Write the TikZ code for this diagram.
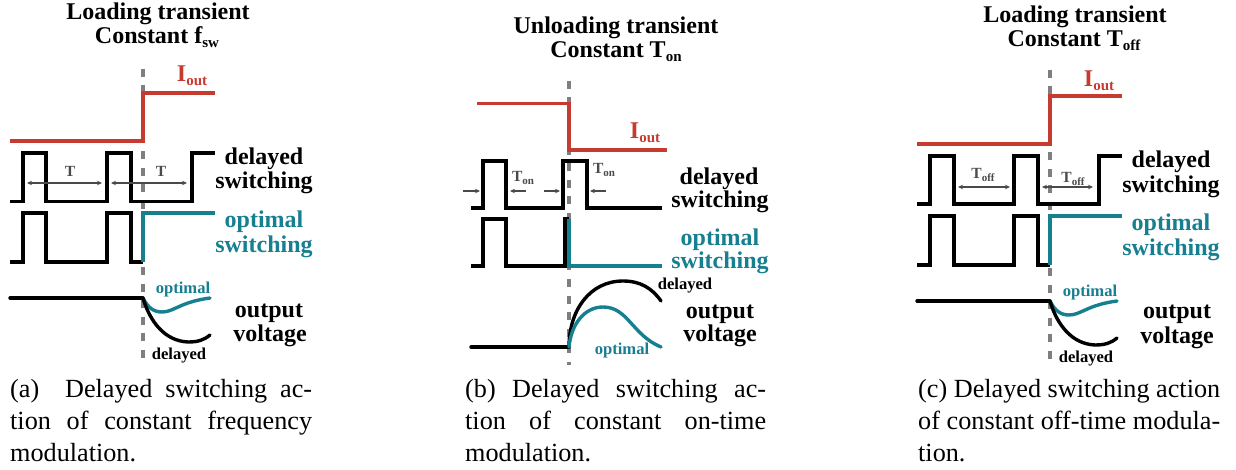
\documentclass[tikz,border=0pt]{standalone}
\usepackage{fontspec}
\setmainfont{Liberation Serif}
\usetikzlibrary{arrows.meta}
\definecolor{wred}{HTML}{C63A30}
\definecolor{wteal}{HTML}{167F90}
\definecolor{wgray}{HTML}{7F7F7F}
\definecolor{wdim}{HTML}{4A4A4A}
\newcommand{\subtxt}[2]{#1\raisebox{-4pt}{\fontsize{15}{15}\selectfont #2}}
\newcommand{\dimsub}[2]{#1\raisebox{-2.5pt}{\fontsize{11}{11}\selectfont #2}}
\tikzset{
  x=1pt,y=-1pt,
  wave/.style={line width=3.6pt,black,line join=miter},
  iwave/.style={line width=3.4pt,wred},
  owave/.style={line width=3.4pt,wteal},
  curve/.style={line width=3.4pt,line cap=round},
  mark line/.style={line width=3.8pt,wgray,dash pattern=on 8pt off 8.5pt},
  dimline/.style={line width=1.1pt,wdim,{Stealth[length=5pt,width=4.5pt]}-{Stealth[length=5pt,width=4.5pt]}},
  dimone/.style={line width=1.1pt,wdim,-{Stealth[length=5pt,width=4.5pt]}},
  txt/.style={inner sep=0pt,anchor=base},
  heading/.style={txt,font=\bfseries\fontsize{24}{24}\selectfont},
  small/.style={txt,font=\bfseries\fontsize{16.6}{17}\selectfont},
  dimlabel/.style={txt,wdim,font=\bfseries\fontsize{15.5}{16}\selectfont},
  capline/.style={inner sep=0pt,anchor=base west,font=\fontsize{26.2}{27}\selectfont},
}
\begin{document}
\begin{tikzpicture}
\useasboundingbox (0,0) rectangle (1236,470);
% ---------- panel a ----------
\node[heading] (ta1) at (158,20) {Loading transient};
\node[heading] (ta2) at (157,44) {Constant \subtxt{f}{sw}};
\draw[mark line] (143,69) -- (143,362);
\draw[iwave] (10,141) -- (143,141) -- (143,93) -- (215,93);
\node[heading,wred] (ia) at (192,82) {\subtxt{I}{out}};
\draw[wave] (10,201.5) -| (23,153) -| (46,201.5) -| (107,153) -| (131,201.5) -| (192,153) -- (215,153);
\draw[dimline] (27,183) -- (102,183);
\draw[dimline] (111,183) -- (187,183);
\node[dimlabel] (Ta) at (70,177) {T};
\node[dimlabel] (Tb) at (161,177) {T};
\draw[wave] (10,262) -| (23,213) -| (46,262) -| (107,213) -| (131,262) -- (143,262);
\draw[owave] (143,262) -- (143,213) -- (215,213);
\draw[curve,black] (10,298) -- (143,298);
\draw[curve,wteal] (143,298) .. controls (148,308) and (154,312) .. (162,312) .. controls (174,312) and (180,302) .. (210,298);
\draw[curve,black] (143,298) .. controls (150,322) and (165,341) .. (188,342) .. controls (198,342) and (204,340) .. (210,335);
\node[small,wteal] (oa) at (183,293) {optimal};
\node[small] (da) at (179,359) {delayed};
\node[heading] (a1) at (264,165) {delayed};
\node[heading] (a2) at (264,189) {switching};
\node[heading,wteal] (a3) at (264,228) {optimal};
\node[heading,wteal] (a4) at (264,252.5) {switching};
\node[heading] (a5) at (269,317) {output};
\node[heading] (a6) at (270,341) {voltage};
\node[capline] (ca1) at (10,397) {\hbox to 302pt{(a)\hfil\hfil Delayed\hfil switching\hfil ac-}};
\node[capline] (ca2) at (10,429) {\hbox to 302pt{tion\hfil of\hfil constant\hfil frequency}};
\node[capline] (ca3) at (10,461) {modulation.};
% ---------- panel b ----------
\node[heading] (tb1) at (616,34) {Unloading transient};
\node[heading] (tb2) at (616,58) {Constant \subtxt{T}{on}};
\draw[mark line] (569,81) -- (569,365);
\draw[iwave] (477,103.5) -- (569,103.5) -- (569,150) -- (667,150);
\node[heading,wred] (ib) at (645,139) {\subtxt{I}{out}};
\draw[wave] (471,208) -| (483,161) -| (506,208) -| (563,161) -| (587,208) -- (662,208);
\draw[dimone] (463,191) -- (480,191);
\draw[dimone] (526,191) -- (510,191);
\draw[dimone] (544,191) -- (560,191);
\draw[dimone] (606,191) -- (590,191);
\node[dimlabel] (Tc) at (523,182) {\dimsub{T}{on}};
\node[dimlabel] (Td) at (604,174) {\dimsub{T}{on}};
\draw[wave] (471,266) -| (483,219) -| (506,266) -| (565,219) -- (569,219);
\draw[owave] (569,219) -- (569,266) -- (662,266);
\draw[curve,black] (471,347) -- (569,347);
\draw[curve,black] (569,347) .. controls (569,310) and (590,281) .. (623,281) .. controls (640,281) and (652,288) .. (661,301);
\draw[curve,wteal] (569,347) .. controls (571,325) and (584,307) .. (603,307) .. controls (628,307) and (632,335) .. (661,347);
\node[small] (db) at (685,289) {delayed};
\node[small,wteal] (ob) at (622,354) {optimal};
\node[heading] (b1) at (719,185) {delayed};
\node[heading] (b2) at (720,208) {switching};
\node[heading,wteal] (b3) at (720,246) {optimal};
\node[heading,wteal] (b4) at (720,268.5) {switching};
\node[heading] (b5) at (720,318) {output};
\node[heading] (b6) at (720,341) {voltage};
\node[capline] (cb1) at (465,397) {\hbox to 301pt{(b)\hfil Delayed\hfil switching\hfil ac-}};
\node[capline] (cb2) at (465,429) {\hbox to 301pt{tion\hfil of\hfil constant\hfil on-time}};
\node[capline] (cb3) at (465,461) {modulation.};
% ---------- panel c ----------
\node[heading] (tc1) at (1075,23) {Loading transient};
\node[heading] (tc2) at (1074,47) {Constant \subtxt{T}{off}};
\draw[mark line] (1050,70) -- (1050,360);
\draw[iwave] (917,144) -- (1050,144) -- (1050,96) -- (1122,96);
\node[heading,wred] (ic) at (1099,87) {\subtxt{I}{out}};
\draw[wave] (917,204) -| (930,156) -| (954,204) -| (1014,156) -| (1038,204) -| (1099,156) -- (1122,156);
\draw[dimline] (958,187) -- (1010,187);
\draw[dimline] (1042,187) -- (1093,187);
\node[dimlabel] (Te) at (983,179) {\dimsub{T}{off}};
\node[dimlabel] (Tf) at (1073,183) {\dimsub{T}{off}};
\draw[wave] (917,265) -| (930,216) -| (954,265) -| (1014,216) -| (1038,265) -- (1050,265);
\draw[owave] (1050,265) -- (1050,216) -- (1122,216);
\draw[curve,black] (917,301) -- (1050,301);
\draw[curve,wteal] (1050,301) .. controls (1055,311) and (1061,315) .. (1069,315) .. controls (1081,315) and (1087,305) .. (1117,301);
\draw[curve,black] (1050,301) .. controls (1057,325) and (1072,344) .. (1095,345) .. controls (1105,345) and (1111,343) .. (1117,338);
\node[small,wteal] (oc) at (1090,296) {optimal};
\node[small] (dc) at (1086,362) {delayed};
\node[heading] (c1) at (1171,168) {delayed};
\node[heading] (c2) at (1171,192.5) {switching};
\node[heading,wteal] (c3) at (1171,231) {optimal};
\node[heading,wteal] (c4) at (1171,255) {switching};
\node[heading] (c5) at (1177,318.5) {output};
\node[heading] (c6) at (1177,343) {voltage};
\node[capline] (cc1) at (918,397) {\hbox to 302pt{(c)\hfil Delayed\hfil switching\hfil action}};
\node[capline] (cc2) at (918,429) {\hbox to 302pt{of\hfil constant\hfil off-time\hfil modula-}};
\node[capline] (cc3) at (918,461) {tion.};
\end{tikzpicture}
\end{document}
